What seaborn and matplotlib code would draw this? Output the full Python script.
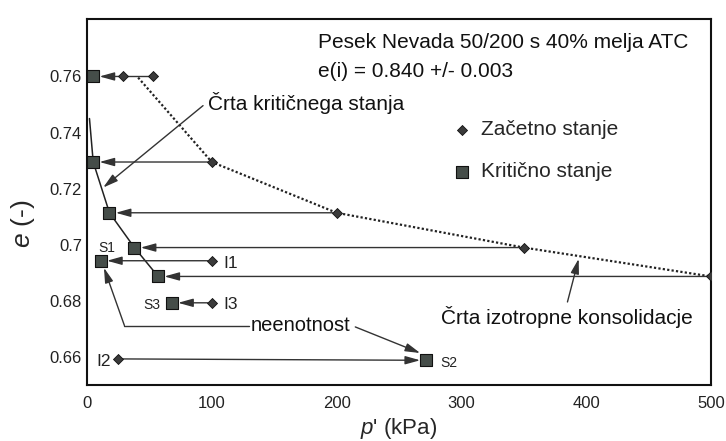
import numpy as np
import pandas as pd
import seaborn as sns
import matplotlib.pyplot as plt
from matplotlib.ticker import MultipleLocator

# --- data ---
init_p = [53, 29, 100, 200, 350, 100, 500, 100, 25]
init_e = [0.7600, 0.7600, 0.7295, 0.7114, 0.6990, 0.6943, 0.6887, 0.6793, 0.6593]

crit_p = [5, 5, 18, 38, 57, 11, 68, 272]
crit_e = [0.7600, 0.7295, 0.7114, 0.6990, 0.6887, 0.6943, 0.6793, 0.6588]

# index into init -> index into crit (test paths, arrow points at critical state)
paths = [(1, 0), (2, 1), (3, 2), (4, 3), (5, 5), (6, 4), (7, 6), (8, 7)]

csl_p = [2, 5, 18, 38, 57]
csl_e = [0.7450, 0.7295, 0.7114, 0.6990, 0.6887]

icl_p = [41, 100, 200, 350, 500]
icl_e = [0.7596, 0.7295, 0.7114, 0.6990, 0.6887]

y_ticks = [0.66, 0.68, 0.70, 0.72, 0.74, 0.76]
y_tick_labels = ["0.66", "0.68", "0.7", "0.72", "0.74", "0.76"]
x_ticks = [0, 100, 200, 300, 400, 500]

sns.set_style("white")
plt.rcParams["font.family"] = ["Liberation Sans", "DejaVu Sans"]
plt.rcParams["mathtext.fontset"] = "custom"
plt.rcParams["mathtext.it"] = "Liberation Sans:italic"
plt.rcParams["mathtext.rm"] = "Liberation Sans"

fig = plt.figure(figsize=(7.26, 4.41), dpi=100)
ax = fig.add_axes([0.1198, 0.127, 0.8595, 0.830])

init_df = pd.DataFrame({"p": init_p, "e": init_e})
crit_df = pd.DataFrame({"p": crit_p, "e": crit_e})

# lines first
sns.lineplot(x=csl_p, y=csl_e, sort=False, color="#222222", lw=1.1, ax=ax)
sns.lineplot(x=icl_p, y=icl_e, sort=False, color="#222222", lw=1.6,
             linestyle=(0, (1, 1)), ax=ax)
# short segment between the two diamonds at top
sns.lineplot(x=init_p[:2], y=init_e[:2], sort=False, color="#333333", lw=1.0, ax=ax)

arrow_kw = dict(arrowstyle="-|>,head_length=0.9,head_width=0.25",
                color="#333333", lw=1.0)
for i, c in paths:
    ax.annotate("", xy=(crit_p[c], crit_e[c]), xytext=(init_p[i], init_e[i]),
                arrowprops=dict(**arrow_kw, shrinkA=3, shrinkB=4.5), zorder=2)

sns.scatterplot(data=init_df, x="p", y="e", marker="D", s=26, color="#3a3a3a",
                edgecolor="#111111", linewidth=0.6, label="Začetno stanje",
                zorder=4, ax=ax)
sns.scatterplot(data=crit_df, x="p", y="e", marker="s", s=75, color="#454d49",
                edgecolor="#111111", linewidth=0.8, label="Kritično stanje",
                zorder=4, ax=ax)

# annotations
txt_kw = dict(fontsize=15, color="#111111")
ax.text(185, 0.7721, "Pesek Nevada 50/200 s 40% melja ATC", va="center", **txt_kw)
ax.text(185, 0.7618, "e(i) = 0.840 +/- 0.003", va="center", **txt_kw)

ax.text(97, 0.7507, "Črta kritičnega stanja", va="center", **txt_kw)
ax.annotate("", xy=(13, 0.7204), xytext=(93, 0.7496),
            arrowprops=dict(**arrow_kw, shrinkA=0, shrinkB=0))

ax.text(485, 0.6743, "Črta izotropne konsolidacje", va="center", ha="right", **txt_kw)
ax.annotate("", xy=(394, 0.6950), xytext=(385, 0.6796),
            arrowprops=dict(**arrow_kw, shrinkA=0, shrinkB=0))

ax.text(131, 0.6711, "neenotnost", va="center", fontsize=14.5, color="#111111")
ax.plot([30, 130], [0.6712, 0.6712], color="#333333", lw=1.0)
ax.annotate("", xy=(13.6, 0.6918), xytext=(30, 0.6712),
            arrowprops=dict(**arrow_kw, shrinkA=0, shrinkB=0))
ax.annotate("", xy=(267, 0.6614), xytext=(215, 0.6707),
            arrowprops=dict(**arrow_kw, shrinkA=0, shrinkB=0))

lab_s = dict(fontsize=10, color="#222222", va="center")
lab_i = dict(fontsize=12.5, color="#222222", va="center")
ax.text(15.5, 0.6989, "S1", ha="center", **lab_s)
ax.text(59, 0.6786, "S3", ha="right", **lab_s)
ax.text(283, 0.6579, "S2", ha="left", **lab_s)
ax.text(109, 0.6932, "I1", ha="left", **lab_i)
ax.text(109, 0.6786, "I3", ha="left", **lab_i)
ax.text(19, 0.6582, "I2", ha="right", **lab_i)

# axes
ax.set_xlim(0, 500)
ax.set_ylim(0.65, 0.7805)
ax.set_xticks(x_ticks)
ax.set_yticks(y_ticks)
ax.set_yticklabels(y_tick_labels)
ax.xaxis.set_minor_locator(MultipleLocator(50))
ax.yaxis.set_minor_locator(MultipleLocator(0.01))
ax.tick_params(which="both", direction="in", color="#111111", width=1.1,
               labelsize=12, labelcolor="#222222")
ax.tick_params(which="major", length=6)
ax.tick_params(which="minor", length=5)
ax.tick_params(axis="x", pad=8)
for s in ax.spines.values():
    s.set_color("#111111")
    s.set_linewidth(1.5)

ax.set_xlabel("$p$' (kPa)", fontsize=16)
ax.xaxis.set_label_coords(0.5, -0.085)
ax.set_ylabel("$e$ (-)", fontsize=19)
ax.yaxis.set_label_coords(-0.08, 0.44)

leg = ax.legend(loc="upper left", bbox_to_anchor=(0.574, 0.746), frameon=False,
                fontsize=15, labelspacing=1.1, handletextpad=0.5,
                handlelength=0.8, borderaxespad=0)

fig.savefig("out.png", dpi=100)
